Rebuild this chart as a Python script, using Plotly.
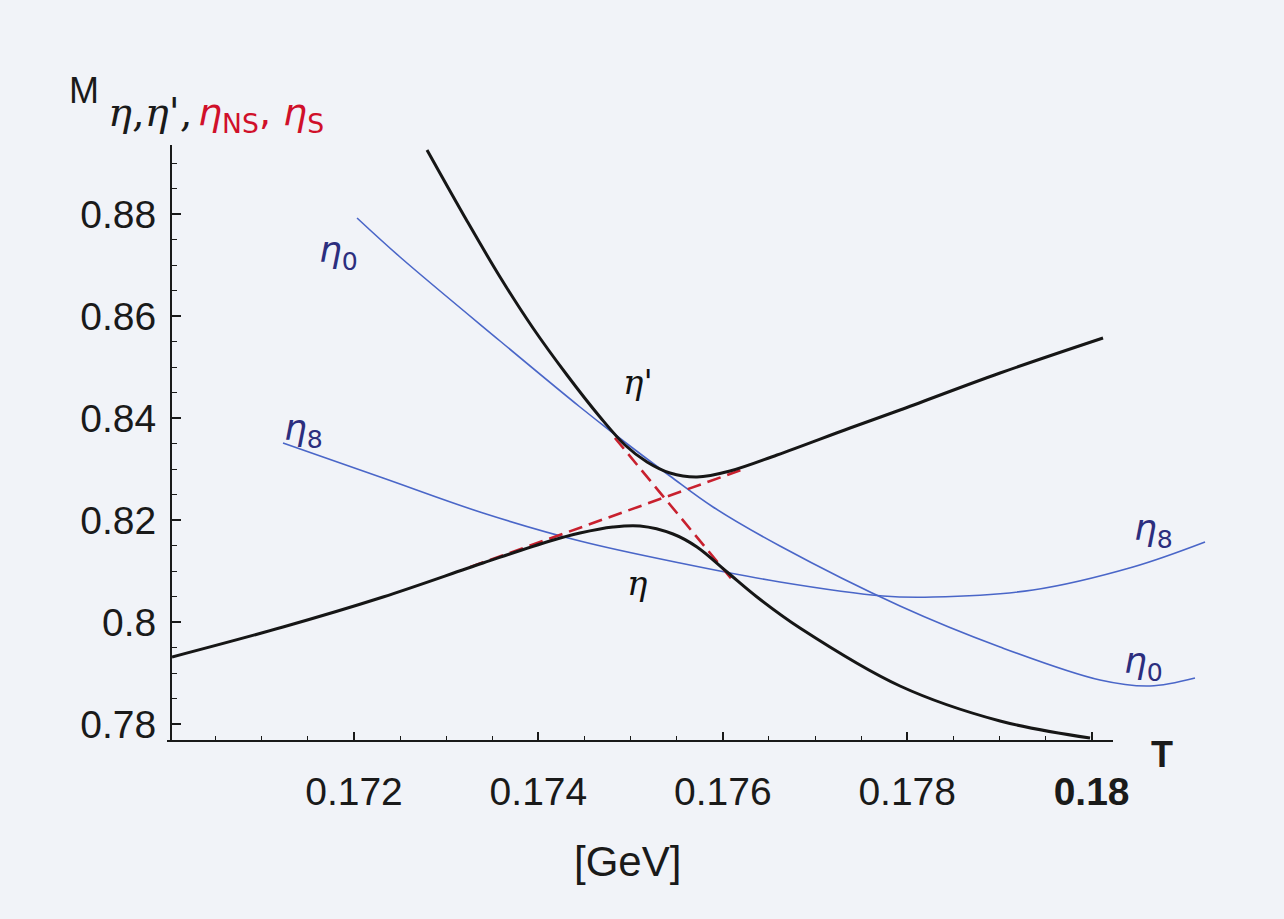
import plotly.graph_objects as go
import numpy as np

# ---------------- data ----------------
eta_T = [0.170026, 0.171230, 0.172315, 0.173399, 0.174126, 0.174451, 0.174809, 0.175102,
         0.175460, 0.175720, 0.176046, 0.176371, 0.176837, 0.177922, 0.179007, 0.179983]
eta_M = [0.793137, 0.799020, 0.804902, 0.811569, 0.815882, 0.817451, 0.818627, 0.818824,
         0.817255, 0.814706, 0.809804, 0.804902, 0.798824, 0.787451, 0.780588, 0.777255]

etap_T = [0.172792, 0.173226, 0.173584, 0.173941, 0.174310, 0.174668, 0.174939, 0.175178,
          0.175427, 0.175720, 0.176078, 0.176588, 0.177380, 0.177922, 0.179007, 0.180124]
etap_M = [0.892549, 0.878627, 0.867647, 0.857647, 0.848431, 0.840196, 0.834706, 0.831373,
          0.829216, 0.828431, 0.829608, 0.832745, 0.838039, 0.841569, 0.848824, 0.855686]

eta0_T = [0.172033, 0.172499, 0.173584, 0.174451, 0.174809, 0.175427, 0.175894, 0.176620,
          0.177922, 0.179007, 0.180091, 0.180633, 0.181121]
eta0_M = [0.879216, 0.871569, 0.855098, 0.842157, 0.837059, 0.828627, 0.822549, 0.814902,
          0.803137, 0.795098, 0.788627, 0.787451, 0.789020]

eta8_T = [0.171230, 0.172315, 0.173399, 0.174451, 0.175536, 0.176620, 0.177738, 0.178280,
          0.179364, 0.180449, 0.181230]
eta8_M = [0.835098, 0.828235, 0.821373, 0.815882, 0.811569, 0.807843, 0.805098, 0.804902,
          0.806275, 0.810784, 0.815686]

etaNS_T = [0.17326, 0.17626]
etaNS_M = [0.81078, 0.83020]

etaS_T = [0.17483, 0.17613]
etaS_M = [0.83608, 0.80765]

x_tickvals = [0.172, 0.174, 0.176, 0.178, 0.18]
x_ticktext = ["0.172", "0.174", "0.176", "0.178", "<b>0.18</b>"]
y_tickvals = [0.78, 0.80, 0.82, 0.84, 0.86, 0.88]
y_ticktext = ["0.78", "0.8", "0.82", "0.84", "0.86", "0.88"]

# ---------------- figure ----------------
W, H = 1284, 919
L, R, T, B = 172, 1210, 145, 741  # plot area in pixels


def px(x):
    return (x - L) / (R - L)


def py(y):
    return (B - y) / (B - T)


BLACK = "#161616"
BLUE = "#4a66c8"
RED = "#c8202e"
INK = "#2c2e7e"

fig = go.Figure()
fig.add_trace(go.Scatter(x=eta0_T, y=eta0_M, mode="lines",
                         line=dict(color=BLUE, width=1.6, shape="spline", smoothing=1.0)))
fig.add_trace(go.Scatter(x=eta8_T, y=eta8_M, mode="lines",
                         line=dict(color=BLUE, width=1.6, shape="spline", smoothing=1.0)))
fig.add_trace(go.Scatter(x=etaNS_T, y=etaNS_M, mode="lines",
                         line=dict(color=RED, width=2.6, dash="14px,7px")))
fig.add_trace(go.Scatter(x=etaS_T, y=etaS_M, mode="lines",
                         line=dict(color=RED, width=2.6, dash="14px,7px")))
fig.add_trace(go.Scatter(x=eta_T, y=eta_M, mode="lines",
                         line=dict(color=BLACK, width=3, shape="spline", smoothing=1.0)))
fig.add_trace(go.Scatter(x=etap_T, y=etap_M, mode="lines",
                         line=dict(color=BLACK, width=3, shape="spline", smoothing=1.0)))

xr0 = 0.172 - (354 - L) / 92200
xr1 = 0.172 + (R - 354) / 92200
yr0 = 0.80 - (B - 622) / 5100
yr1 = 0.80 + (622 - T) / 5100

tick_font = dict(family="Liberation Sans, Arial", size=39, color="#1a1a1a")

fig.update_layout(
    width=W, height=H,
    margin=dict(l=L, r=W - R, t=T, b=H - B, pad=0),
    paper_bgcolor="#f1f3f8",
    plot_bgcolor="#f1f3f8",
    showlegend=False,
    xaxis=dict(range=[xr0, xr1], showgrid=False, zeroline=False, showline=False,
               tickmode="array", tickvals=x_tickvals, ticktext=x_ticktext,
               ticks="inside", ticklen=9, tickwidth=1.5, tickcolor="#1a1a1a",
               tickfont=tick_font, ticklabelstandoff=24,
               minor=dict(tickmode="array",
                          tickvals=list(np.round(np.arange(0.1705, 0.18001, 0.0005), 5)),
                          ticks="inside", ticklen=5, tickwidth=1, tickcolor="#1a1a1a")),
    yaxis=dict(range=[yr0, yr1], showgrid=False, zeroline=False, showline=True,
               linecolor="#1a1a1a", linewidth=2,
               tickmode="array", tickvals=y_tickvals, ticktext=y_ticktext,
               ticks="inside", ticklen=9, tickwidth=1.5, tickcolor="#1a1a1a",
               tickfont=tick_font, ticklabelstandoff=6,
               minor=dict(tickmode="array",
                          tickvals=list(np.round(np.arange(0.78, 0.8901, 0.005), 4)),
                          ticks="inside", ticklen=5, tickwidth=1, tickcolor="#1a1a1a")),
)

# x axis line (stops before the right end of the plotting area)
fig.add_shape(type="line", xref="paper", yref="paper",
              x0=px(167), x1=px(1113), y0=0, y1=0,
              line=dict(color="#1a1a1a", width=2))

ann = []


def add(text, x, y, size, color="#111", family="DejaVu Serif", xanchor="center", yanchor="middle"):
    ann.append(dict(text=text, x=px(x), y=py(y), xref="paper", yref="paper",
                    showarrow=False, xanchor=xanchor, yanchor=yanchor,
                    font=dict(size=size, color=color, family=family)))


# y-axis title
add("M", 84, 91, 36, "#1a1a1a", "Liberation Sans, Arial")
add("<i>η</i>,<i>η</i>',", 106, 112, 40, "#1a1a1a", "DejaVu Serif", xanchor="left")
add("<i>η</i><sub>NS</sub>, <i>η</i><sub>S</sub>", 196, 114, 38, "#d0102a",
    "DejaVu Sans", xanchor="left")
# curve labels
add("<i>η</i>'", 638, 382, 34)
add("<i>η</i>", 637, 583, 34)
add("<i>η</i><sub>0</sub>", 338, 252, 36, INK, "DejaVu Sans")
add("<i>η</i><sub>8</sub>", 303, 430, 36, INK, "DejaVu Sans")
add("<i>η</i><sub>8</sub>", 1153, 530, 36, INK, "DejaVu Sans")
add("<i>η</i><sub>0</sub>", 1143, 663, 36, INK, "DejaVu Sans")
# x-axis labels
add("<b>T</b>", 1162, 754, 36, "#1a1a1a", "Liberation Sans, Arial")
add("[GeV]", 627, 861, 42, "#1a1a1a", "Liberation Sans, Arial")

fig.update_layout(annotations=ann)

fig.write_html("out.html")
